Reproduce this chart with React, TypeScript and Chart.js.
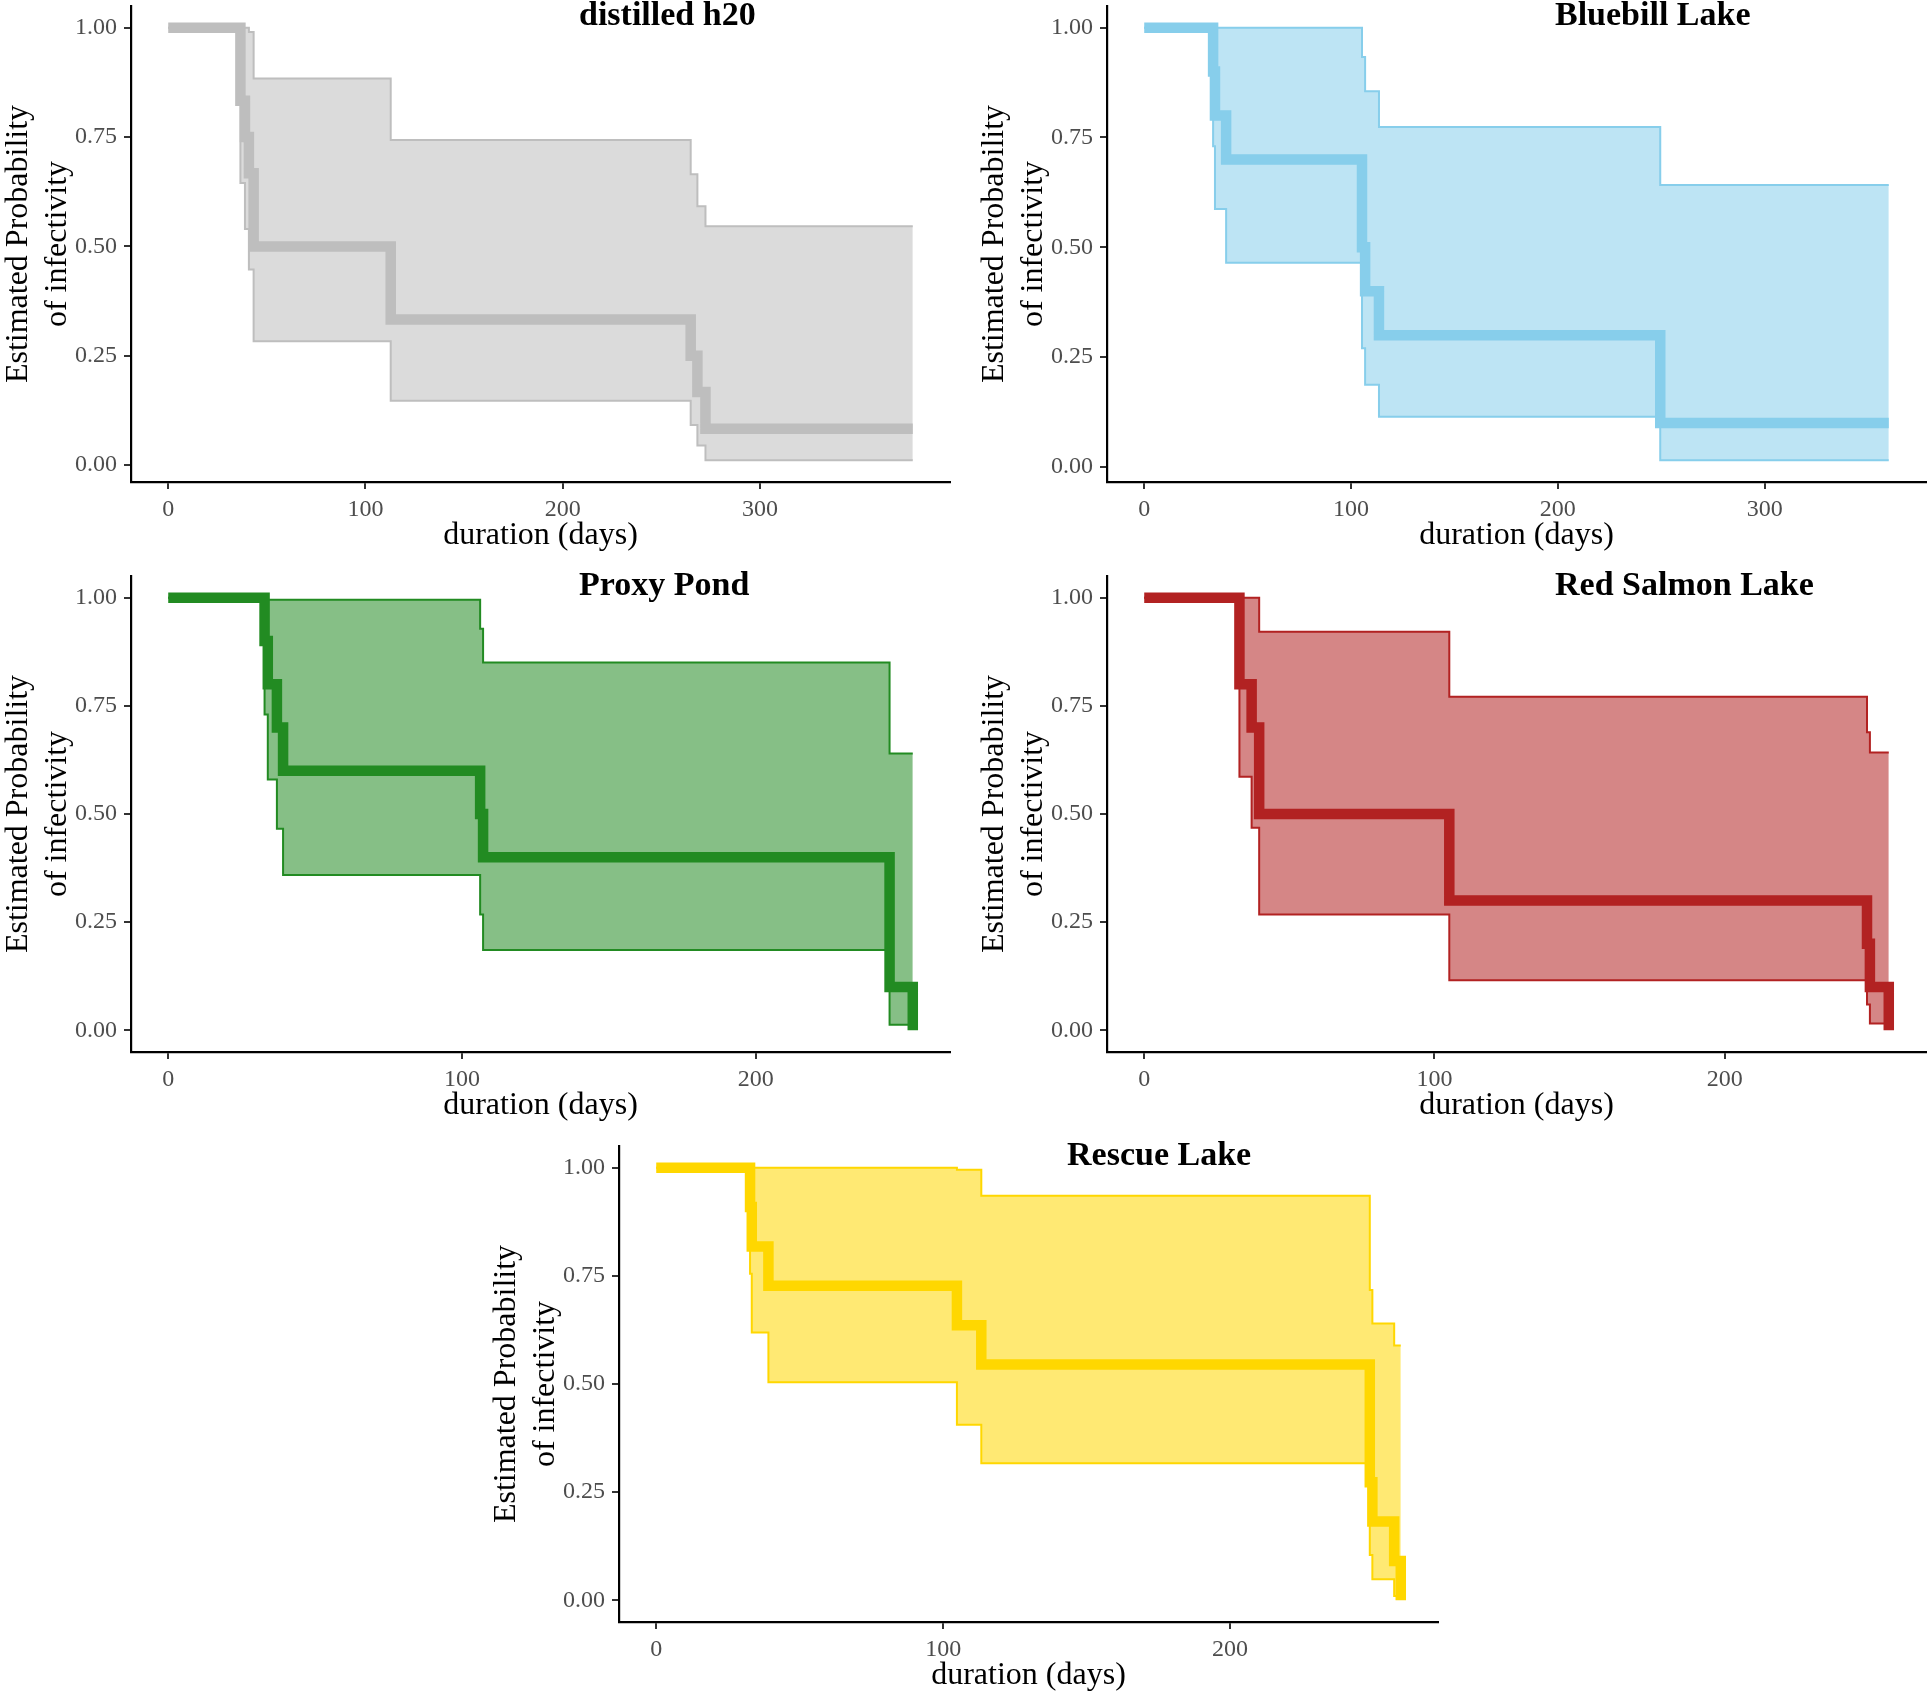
import React, { useEffect, useRef } from 'react';
import { Chart, registerables } from 'chart.js';

Chart.register(...registerables);

const SERIF = '"Liberation Serif", "Times New Roman", serif';

// ---- tick labels ----
const xTicksLong = [0, 100, 200, 300];
const xTicksShort = [0, 100, 200];
const yTicks = [0, 0.25, 0.5, 0.75, 1];
const yTitle = ['Estimated Probability', 'of infectivity'];
const xTitle = 'duration (days)';

// ---- distilled h20 ----
const distilledTime = [0, 36.6, 38.9, 40.9, 43.3, 112.8, 264.9, 268.3, 272.4, 377.5];
const distilledKM = [1, 0.833, 0.75, 0.667, 0.5, 0.333, 0.25, 0.167, 0.083, 0.083];
const distilledUpper = [1, 1, 1, 0.99, 0.884, 0.743, 0.665, 0.592, 0.546, 0.546];
const distilledLower = [1, 0.645, 0.54, 0.447, 0.283, 0.147, 0.092, 0.045, 0.011, 0.011];

// ---- Bluebill Lake ----
const bluebillTime = [0, 33.3, 34.2, 39.6, 105.3, 106.8, 113.5, 249.5, 360];
const bluebillKM = [1, 0.9, 0.8, 0.7, 0.5, 0.4, 0.3, 0.1, 0.1];
const bluebillUpper = [1, 1, 1, 1, 0.933, 0.855, 0.774, 0.642, 0.642];
const bluebillLower = [1, 0.73, 0.587, 0.465, 0.27, 0.187, 0.114, 0.015, 0.015];

// ---- Proxy Pond ----
const proxyTime = [0, 32.8, 33.9, 37.0, 39.1, 106.2, 107.2, 245.6, 253.5];
const proxyKM = [1, 0.9, 0.8, 0.7, 0.6, 0.5, 0.4, 0.1, 0];
const proxyUpper = [1, 1, 0.995, 0.995, 0.995, 0.928, 0.85, 0.64, 0.64];
const proxyLower = [1, 0.73, 0.58, 0.466, 0.359, 0.268, 0.186, 0.013, 0.013];

// ---- Red Salmon Lake ----
const salmonTime = [0, 32.8, 37.0, 39.6, 105.1, 249.0, 250.0, 256.5];
const salmonKM = [1, 0.8, 0.7, 0.5, 0.3, 0.2, 0.1, 0];
const salmonUpper = [1, 1, 1, 0.921, 0.771, 0.689, 0.642, 0.642];
const salmonLower = [1, 0.586, 0.468, 0.268, 0.116, 0.06, 0.016, 0.016];

// ---- Rescue Lake ----
const rescueTime = [0, 32.7, 33.3, 39.1, 104.8, 113.3, 248.7, 249.6, 257.2, 259.5];
const rescueKM = [1, 0.909, 0.818, 0.727, 0.636, 0.545, 0.273, 0.182, 0.091, 0];
const rescueUpper = [1, 1, 1, 1, 0.995, 0.935, 0.717, 0.64, 0.589, 0.589];
const rescueLower = [1, 0.755, 0.619, 0.504, 0.406, 0.317, 0.105, 0.049, 0.01, 0.01];

type PanelProps = {
  title: string;
  time: number[];
  km: number[];
  upper: number[];
  lower: number[];
  color: string;
  fill: string;
  xTicks: number[];
  left: number;
  top: number;
  width: number;
  height: number;
};

const PLOT_LEFT = 131;
const PLOT_W = 819;
const PLOT_TOP = 6;
const PLOT_H = 476;

function Panel(p: PanelProps) {
  const ref = useRef<HTMLCanvasElement | null>(null);
  useEffect(() => {
    if (!ref.current) return;
    const xmax = p.time[p.time.length - 1];
    const lo = Math.min(...p.km, ...p.lower);
    const hi = Math.max(...p.km, ...p.upper);
    const yr = hi - lo;
    const pts = (ys: number[]) => p.time.map((t, i) => ({ x: t, y: ys[i] }));
    const titlePlugin = {
      id: 'panelTitle',
      afterDraw(chart: any) {
        const { ctx, chartArea } = chart;
        ctx.save();
        ctx.font = `bold 34px ${SERIF}`;
        ctx.fillStyle = '#000';
        ctx.textAlign = 'left';
        ctx.textBaseline = 'alphabetic';
        ctx.fillText(p.title, chartArea.left + 448, chartArea.top + 19);
        ctx.restore();
      },
    };
    const zeroPad = (s: any) => {
      s.paddingTop = 0;
      s.paddingBottom = 0;
      s.paddingLeft = 0;
      s.paddingRight = 0;
    };
    const chart = new Chart(ref.current, {
      type: 'line',
      data: {
        datasets: [
          {
            label: 'km',
            data: pts(p.km),
            borderColor: p.color,
            borderWidth: 10.5,
            stepped: 'before',
            pointRadius: 0,
            fill: false,
            order: 0,
            borderCapStyle: 'butt',
            borderJoinStyle: 'miter',
          },
          {
            label: 'upper',
            data: pts(p.upper),
            borderColor: p.color,
            borderWidth: 2,
            stepped: 'before',
            pointRadius: 0,
            fill: '+1',
            backgroundColor: p.fill,
            order: 1,
          },
          {
            label: 'lower',
            data: pts(p.lower),
            borderColor: p.color,
            borderWidth: 2,
            stepped: 'before',
            pointRadius: 0,
            fill: false,
            order: 2,
          },
        ],
      },
      options: {
        animation: false,
        responsive: false,
        devicePixelRatio: 1,
        layout: {
          padding: {
            left: 0,
            top: PLOT_TOP,
            right: p.width - PLOT_LEFT - PLOT_W,
            bottom: 0,
          },
        },
        plugins: {
          legend: { display: false },
          tooltip: { enabled: false },
          filler: { drawTime: 'beforeDatasetsDraw' },
        },
        scales: {
          x: {
            type: 'linear',
            min: -0.05 * xmax,
            max: 1.05 * xmax,
            afterBuildTicks: (s: any) => {
              s.ticks = p.xTicks.map((v) => ({ value: v }));
            },
            afterFit: (s: any) => {
              s.height = p.height - PLOT_TOP - PLOT_H;
              zeroPad(s);
            },
            border: { display: true, color: '#000', width: 2.2 },
            grid: {
              display: true,
              drawOnChartArea: false,
              drawTicks: true,
              tickLength: 7,
              color: '#333',
              lineWidth: 2,
            },
            ticks: {
              color: '#4d4d4d',
              font: { family: SERIF, size: 24 },
              padding: 6,
              maxRotation: 0,
              autoSkip: false,
              callback: (v: any) => String(v),
            },
            title: {
              display: true,
              text: xTitle,
              color: '#000',
              font: { family: SERIF, size: 32, lineHeight: 1.2 },
              padding: { top: 0, bottom: 5 },
            },
          },
          y: {
            type: 'linear',
            min: lo - 0.05 * yr,
            max: hi + 0.05 * yr,
            afterBuildTicks: (s: any) => {
              s.ticks = yTicks.map((v) => ({ value: v }));
            },
            afterFit: (s: any) => {
              s.width = PLOT_LEFT;
              zeroPad(s);
            },
            border: { display: true, color: '#000', width: 2.2 },
            grid: {
              display: true,
              drawOnChartArea: false,
              drawTicks: true,
              tickLength: 7,
              color: '#333',
              lineWidth: 2,
            },
            ticks: {
              color: '#4d4d4d',
              font: { family: SERIF, size: 24 },
              padding: 7,
              autoSkip: false,
              callback: (v: any) => Number(v).toFixed(2),
            },
            title: {
              display: true,
              text: yTitle,
              color: '#000',
              font: { family: SERIF, size: 32, lineHeight: 1.19 },
              padding: { top: 0, bottom: 0 },
            },
          },
        },
      },
      plugins: [titlePlugin],
    } as any);
    return () => chart.destroy();
  }, []);
  return (
    <canvas
      ref={ref}
      width={p.width}
      height={p.height}
      style={{ position: 'absolute', left: p.left, top: p.top, width: p.width, height: p.height }}
    />
  );
}

export default function App() {
  return (
    <div
      style={{
        position: 'absolute',
        left: 0,
        top: 0,
        width: 1927,
        height: 1697,
        overflow: 'hidden',
        background: '#fff',
      }}
    >
      <Panel title="distilled h20" time={distilledTime} km={distilledKM} upper={distilledUpper} lower={distilledLower}
        color="#BEBEBE" fill="rgba(190,190,190,0.55)" xTicks={xTicksLong} left={0} top={0} width={960} height={560} />
      <Panel title="Bluebill Lake" time={bluebillTime} km={bluebillKM} upper={bluebillUpper} lower={bluebillLower}
        color="#87CEEB" fill="rgba(135,206,235,0.55)" xTicks={xTicksLong} left={976} top={0} width={951} height={560} />
      <Panel title="Proxy Pond" time={proxyTime} km={proxyKM} upper={proxyUpper} lower={proxyLower}
        color="#228B22" fill="rgba(34,139,34,0.55)" xTicks={xTicksShort} left={0} top={570} width={960} height={560} />
      <Panel title="Red Salmon Lake" time={salmonTime} km={salmonKM} upper={salmonUpper} lower={salmonLower}
        color="#B22222" fill="rgba(178,34,34,0.55)" xTicks={xTicksShort} left={976} top={570} width={951} height={560} />
      <Panel title="Rescue Lake" time={rescueTime} km={rescueKM} upper={rescueUpper} lower={rescueLower}
        color="#FFD700" fill="rgba(255,215,0,0.55)" xTicks={xTicksShort} left={488} top={1140} width={960} height={560} />
    </div>
  );
}
